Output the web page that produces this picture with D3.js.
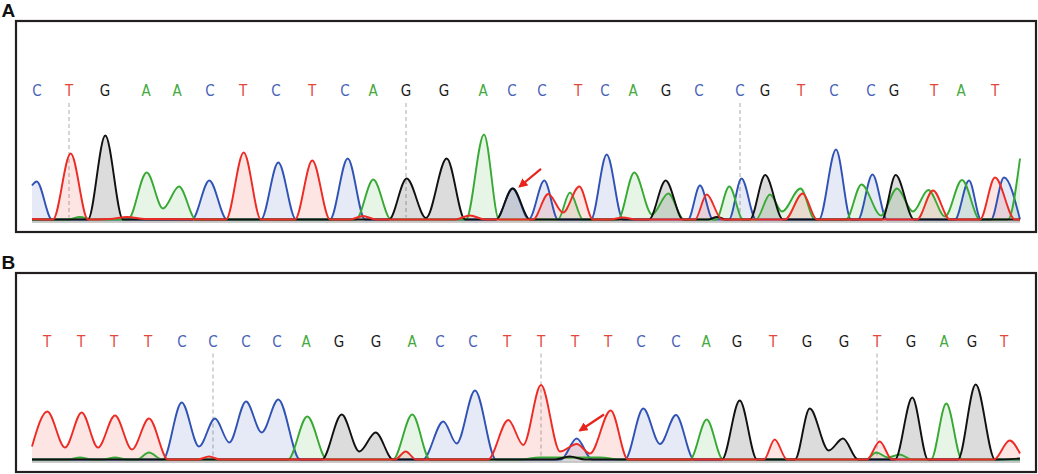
<!DOCTYPE html>
<html><head><meta charset="utf-8">
<script src="https://cdn.jsdelivr.net/npm/d3@7/dist/d3.min.js"></script>
<style>
html,body{margin:0;padding:0;background:#fff;}
svg{display:block;}
</style>
</head><body>
<svg id="chart" width="1038" height="474"></svg>
<script>
// ---------- DATA (scan positions, signal intensity) ----------
const seqA = "CTGAACTCTCAGGACCTCAGCCGTCCGTAT".split("");
const callPosA = [5,37,73,114,145,178,211,244,280,313,341,374,412,451,480,510,546,573,601,634,667,708,733,769,802,839,862,902,929,963];
const markA = [1, 11, 21];
const arrowA = [[509, 50.7], [487.7, 33]];

const seqB = "TTTTCCCCAGGACCTTTTCCAGTGGTGAGT".split("");
const callPosB = [15,49,82,116,150,181,214,245,274,307,344,380,408,441,475,509,543,576,609,644,674,705,741,775,812,845,879,912,940,972];
const markB = [5, 15, 25];
const arrowB = [[572, 45], [548, 29]];

// Panel A traces: [scan, signal]
const traceA_C = [[0,34],[4.7,38],[20,0],[160,0],[177.3,39],[195,0],[229,0],[246.3,57],[264,0],[298,0],[315.7,61],[333,0],[464,0],[480.5,31],[497,0.5],[512.3,39],[526,0],[559,0],[574.7,65],[591,0],[656,0],[668,34],[681,0],[697,0],[709.5,41],[724,0],[787,0],[804,70],[819,0],[826,0],[840.5,45],[855,0],[923,0],[937,39],[949,0],[959,0],[972,42],[988,0]];
const traceA_T = [[0,0.5],[21,0],[38.7,66],[56,0],[78,0.5],[95,2.5],[113,0.5],[194,0],[211.7,67],[229,0],[263,0],[280.3,59],[298,0],[318,0],[331,3.5],[344,0],[423,0],[438,4],[453,0],[501,0],[516.3,25.5],[531,7],[547.3,33],[561,0],[578,0],[591,2],[604,0],[663,0],[674.7,25],[690,0],[753,0],[770.7,26],[785,0],[885,0],[901,29],[918,0],[948,0],[963,42],[983,0],[988,0]];
const traceA_A = [[0,0],[36,0],[48,2.5],[60,0],[96,0],[114.7,47],[131,11],[147,33],[164,0],[324,0],[341.3,40],[359,0],[434,0],[452,85],[467,0],[526,0],[538,27],[551,0],[586,0],[602.3,47],[620,5],[636.3,26],[652,0],[684,0],[697.3,33],[711,0],[724,0],[738,25],[750,8],[768.5,31],[783,0],[814,0],[829.5,35],[849,4],[865,31],[881,8],[896.3,29.5],[913,3],[930,39.5],[948,0],[976,0],[988,61]];
const traceA_G = [[0,0],[56,0],[73.3,84],[91,0],[357,0],[374.7,41],[394,1.5],[414.7,61],[433,0],[464,0],[480.7,31],[498,0],[617,0],[633.7,39],[651,0],[676,0],[685,2.5],[694,0],[718,0],[733.2,44.5],[751,0],[850,0],[863.7,44.5],[882,0],[988,0]];

// Panel B traces
const traceB_C = [[0,0],[131,0],[149.7,57],[167,13],[183,41],[197.3,17],[214,58],[229.7,27],[246.3,60],[268,0],[391,0],[411.3,38],[424.7,16],[443,69],[464,0],[529,0],[544.7,21],[560,0],[593,0],[611.3,51],[628,15.5],[644,44.5],[662,0],[988,0]];
const traceB_T = [[0,13],[15.3,48],[33,12],[49.7,47],[66,12],[83,44],[100,10],[117,41],[136,0],[166,0],[177,3],[188,0],[363,0],[373.7,8],[384,0],[456,0],[476.3,39.5],[491.3,14.5],[509,74.5],[528,8],[544.7,15.5],[558,6],[578.7,49],[596,0],[732,0],[742.7,20],[755,0],[835,0],[847.7,18],[860,0],[962,0],[977.7,19],[988,6]];
const traceB_A = [[0,0],[36,0],[48,2],[60,0],[71,0],[83,2],[95,0],[105,0],[117,7],[130,0],[256,0],[275.3,43],[295,0],[361,0],[380.3,45],[398,0],[488,0],[508,2],[568,2],[588,0],[658,0],[674.7,40],[691,0],[834,0],[844.3,7],[856,2],[867.7,5],[880,0],[899,0],[914.3,56],[930,0],[988,0]];
const traceB_G = [[0,0],[290,0],[309.7,45],[327.3,8],[343.7,27],[361,0],[523,0],[537.7,3],[553,0],[690,0],[707.7,59],[725,0],[763,0],[777.7,51],[796.7,9],[811,21],[826,0],[863,0],[880.3,62],[896,0],[926,0],[943.7,75],[963,0],[988,1]];

const panelLabels = ["A", "B"];

// ---------- STYLE ----------
const traceColor = {C:"#2f52b4", T:"#ec2b24", G:"#111111", A:"#38a934"};
const letterColor = {C:"#4862b8", T:"#e4473a", G:"#1a1a1a", A:"#44aa40"};
const drawOrder = ["C","A","G","T"];

const panels = [
  {label:panelLabels[0], seq:seqA, pos:callPosA, marks:markA, arrow:arrowA,
   traces:{C:traceA_C, T:traceA_T, A:traceA_A, G:traceA_G},
   frame:[16,21,1036,232], base:219.5, letterY:96, labelY:16.5},
  {label:panelLabels[1], seq:seqB, pos:callPosB, marks:markB, arrow:arrowB,
   traces:{C:traceB_C, T:traceB_T, A:traceB_A, G:traceB_G},
   frame:[16,273,1036,472], base:459.5, letterY:346.5, labelY:268.5}
];

const svg = d3.select("#chart");
const defs = svg.append("defs");
defs.append("marker").attr("id","arrowhead").attr("viewBox","0 0 10 10")
  .attr("refX",8).attr("refY",5).attr("markerWidth",4.2).attr("markerHeight",4.2)
  .attr("orient","auto").append("path").attr("d","M0,0 L10,5 L0,10 z").attr("fill","#e8231c");

panels.forEach(p => {
  const g = svg.append("g");
  const x = d3.scaleLinear().domain([0, 988]).range([32, 1020]);
  const y = d3.scaleLinear().domain([0, 100]).range([p.base, p.base - 100]);

  // panel label
  g.append("text").attr("x", 1.5).attr("y", p.labelY).text(p.label)
    .attr("font-family","'Liberation Sans', Arial, sans-serif").attr("font-weight","bold")
    .attr("font-size", 19).attr("fill","#111");

  // frame
  g.append("rect").attr("x", p.frame[0]).attr("y", p.frame[1])
    .attr("width", p.frame[2]-p.frame[0]).attr("height", p.frame[3]-p.frame[1])
    .attr("fill","#fff").attr("stroke","#231f20").attr("stroke-width",2.2);

  // grey baseline bar
  g.append("rect").attr("x", x(0)).attr("y", y(0)+0.8).attr("width", x(988)-x(0)).attr("height", 2.6)
    .attr("fill","#c6c6c6");

  // dashed markers
  p.marks.forEach(i => {
    g.append("line").attr("x1", x(p.pos[i])).attr("x2", x(p.pos[i]))
      .attr("y1", p.letterY + 7).attr("y2", y(0) - 2)
      .attr("stroke","#b9b9b9").attr("stroke-width",1.2).attr("stroke-dasharray","4,3");
  });

  const area = d3.area().x(d => x(d[0])).y0(y(0)).y1(d => y(d[1])).curve(d3.curveMonotoneX);
  const line = d3.line().x(d => x(d[0])).y(d => y(d[1])).curve(d3.curveMonotoneX);

  drawOrder.forEach(b => {
    g.append("path").datum(p.traces[b]).attr("d", area)
      .attr("fill", traceColor[b]).attr("fill-opacity", b === "G" ? 0.15 : 0.12);
  });
  drawOrder.forEach(b => {
    g.append("path").datum(p.traces[b]).attr("d", line)
      .attr("fill","none").attr("stroke", traceColor[b]).attr("stroke-width", 1.9)
      .attr("stroke-linejoin","round");
  });

  // base calls
  g.selectAll("text.base").data(p.seq).enter().append("text").attr("class","base")
    .attr("x", (d,i) => x(p.pos[i])).attr("y", p.letterY)
    .attr("text-anchor","middle")
    .attr("font-family","'Liberation Sans Narrow','DejaVu Sans Condensed','Arial Narrow',sans-serif")
    .attr("font-size", 15).attr("fill", d => letterColor[d]).text(d => d);

  // arrow
  g.append("line").attr("x1", x(p.arrow[0][0])).attr("y1", y(p.arrow[0][1]))
    .attr("x2", x(p.arrow[1][0])).attr("y2", y(p.arrow[1][1]))
    .attr("stroke","#e8231c").attr("stroke-width",2.2).attr("marker-end","url(#arrowhead)");
});
</script>
</body></html>
